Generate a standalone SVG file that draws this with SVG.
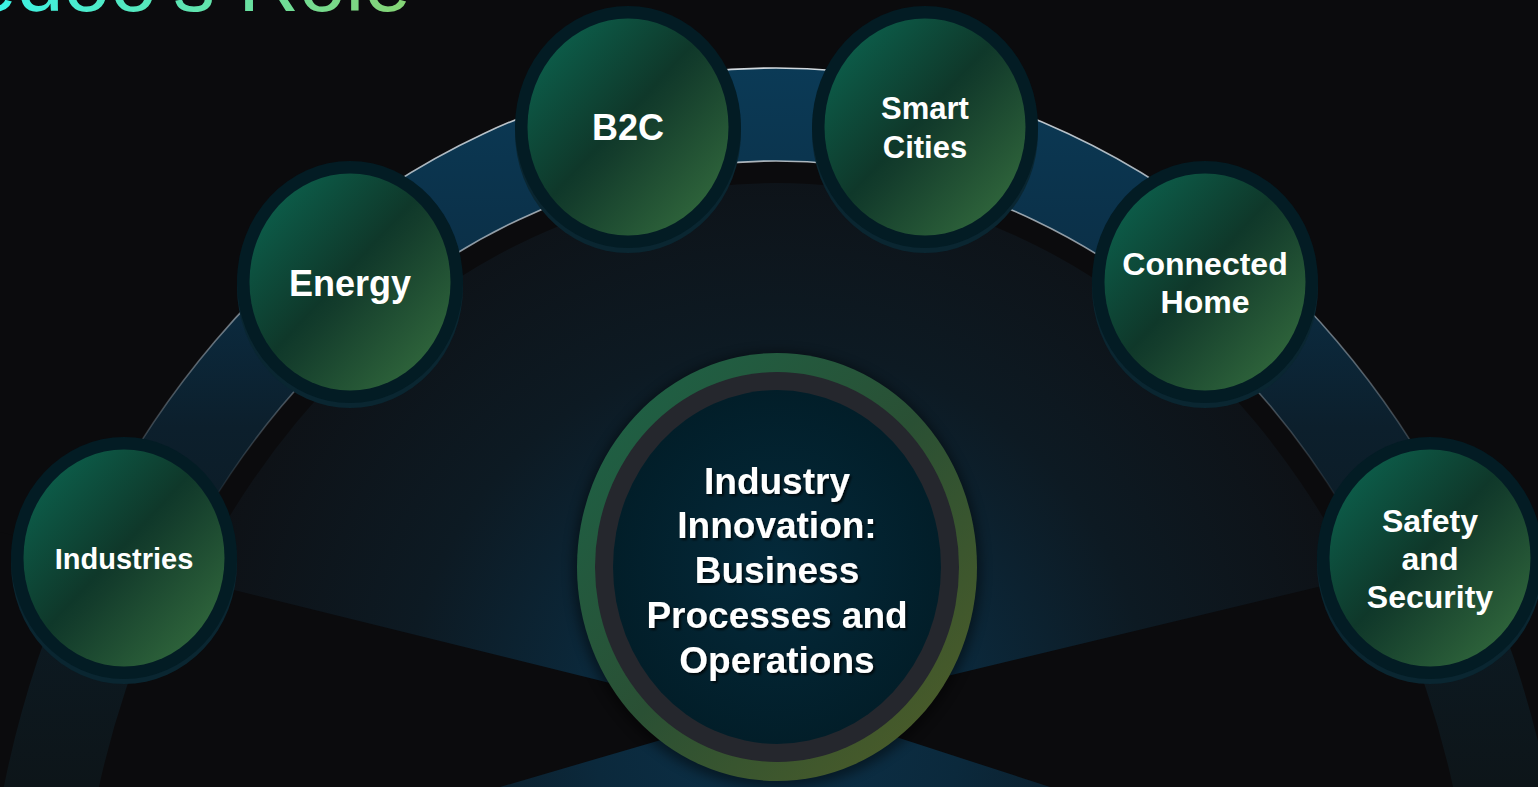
<svg xmlns="http://www.w3.org/2000/svg" width="1538" height="787" viewBox="0 0 1538 787">
<defs>
<style>
.lbl{font-family:"Liberation Sans",Arial,sans-serif;font-weight:700;fill:#ffffff;text-anchor:middle}
.ring{fill:#031c24}
.shadow{fill:#0a2631}
.face{fill:url(#nodeGrad)}
.edge{fill:none;stroke:url(#edgeGrad);stroke-width:1.6}
</style>
<linearGradient id="titleGrad" gradientUnits="userSpaceOnUse" x1="0" y1="0" x2="410" y2="0">
<stop offset="0" stop-color="#3cf2e4"/><stop offset="1" stop-color="#86d474"/>
</linearGradient>
<radialGradient id="discGrad" gradientUnits="userSpaceOnUse" cx="777" cy="720" r="620">
<stop offset="0" stop-color="#0c3149"/><stop offset="0.3" stop-color="#0b293c"/><stop offset="0.6" stop-color="#0d1a23"/><stop offset="1" stop-color="#0e1014"/>
</radialGradient>
<linearGradient id="bandGrad" gradientUnits="userSpaceOnUse" x1="0" y1="68" x2="0" y2="787">
<stop offset="0" stop-color="#0b3a56"/><stop offset="0.25" stop-color="#0b3048"/><stop offset="0.5" stop-color="#0c1f2c"/><stop offset="1" stop-color="#0d1519"/>
</linearGradient>
<linearGradient id="edgeGrad" gradientUnits="userSpaceOnUse" x1="0" y1="60" x2="0" y2="600">
<stop offset="0" stop-color="#e0e6ea" stop-opacity="0.95"/><stop offset="0.45" stop-color="#c0c8d0" stop-opacity="0.6"/><stop offset="0.85" stop-color="#c0c8d0" stop-opacity="0"/>
</linearGradient>
<linearGradient id="nodeGrad" x1="0" y1="0" x2="1" y2="1">
<stop offset="0" stop-color="#0b6954"/><stop offset="0.47" stop-color="#0f382a"/><stop offset="0.53" stop-color="#143d2c"/><stop offset="1" stop-color="#387240"/>
</linearGradient>
<linearGradient id="centerRing" x1="0" y1="0" x2="1" y2="1">
<stop offset="0" stop-color="#1b6449"/><stop offset="0.5" stop-color="#2a5034"/><stop offset="1" stop-color="#525e26"/>
</linearGradient>
<radialGradient id="centerFace" cx="0.5" cy="0.5" r="0.5">
<stop offset="0" stop-color="#042a3b"/><stop offset="1" stop-color="#021e29"/>
</radialGradient>
<filter id="blur" x="-20%" y="-20%" width="140%" height="140%"><feGaussianBlur stdDeviation="6"/></filter>
<filter id="ts" x="-10%" y="-10%" width="120%" height="130%"><feDropShadow dx="2" dy="2" stdDeviation="1" flood-color="#000000" flood-opacity="0.7"/></filter>
</defs>

<rect width="1538" height="787" fill="#0b0b0d"/>

<text id="title" x="411" y="11" font-family="Liberation Sans, Arial, sans-serif" font-size="84" text-anchor="end" fill="url(#titleGrad)">Ooredoo's Role</text>

<g id="backdrop">
<ellipse cx="776" cy="1000" rx="678" ry="817" fill="url(#discGrad)"/>
<polygon points="743,716 0,532 0,787 500,787" fill="#0b0b0d"/>
<polygon points="810,709 1538,534 1538,787 1050,787" fill="#0b0b0d"/>
</g>

<g id="connectors">
<ellipse cx="776" cy="1000" rx="746.5" ry="885.5" fill="none" stroke="url(#bandGrad)" stroke-width="93"/>
<ellipse class="edge" cx="776" cy="1000" rx="793" ry="932"/>
<ellipse class="edge" cx="776" cy="1000" rx="700" ry="839"/>
</g>

<g id="node-industries">
<ellipse class="shadow" cx="124" cy="563" rx="113" ry="121"/>
<ellipse class="ring" cx="124" cy="558" rx="113" ry="121"/>
<ellipse class="face" cx="124" cy="558" rx="100.5" ry="108.5"/>
<text class="lbl" x="124" y="569" font-size="29">Industries</text>
</g>

<g id="node-energy">
<ellipse class="shadow" cx="350" cy="287" rx="113" ry="121"/>
<ellipse class="ring" cx="350" cy="282" rx="113" ry="121"/>
<ellipse class="face" cx="350" cy="282" rx="100.5" ry="108.5"/>
<text class="lbl" x="350" y="296" font-size="36">Energy</text>
</g>

<g id="node-b2c">
<ellipse class="shadow" cx="628" cy="132" rx="113" ry="121"/>
<ellipse class="ring" cx="628" cy="127" rx="113" ry="121"/>
<ellipse class="face" cx="628" cy="127" rx="100.5" ry="108.5"/>
<text class="lbl" x="628" y="140" font-size="36">B2C</text>
</g>

<g id="node-smart-cities">
<ellipse class="shadow" cx="925" cy="132" rx="113" ry="121"/>
<ellipse class="ring" cx="925" cy="127" rx="113" ry="121"/>
<ellipse class="face" cx="925" cy="127" rx="100.5" ry="108.5"/>
<text class="lbl" x="925" y="119" font-size="31">Smart</text>
<text class="lbl" x="925" y="158" font-size="31">Cities</text>
</g>

<g id="node-connected-home">
<ellipse class="shadow" cx="1205" cy="287" rx="113" ry="121"/>
<ellipse class="ring" cx="1205" cy="282" rx="113" ry="121"/>
<ellipse class="face" cx="1205" cy="282" rx="100.5" ry="108.5"/>
<text class="lbl" x="1205" y="275" font-size="32">Connected</text>
<text class="lbl" x="1205" y="313" font-size="32">Home</text>
</g>

<g id="node-safety-security">
<ellipse class="shadow" cx="1430" cy="563" rx="113" ry="121"/>
<ellipse class="ring" cx="1430" cy="558" rx="113" ry="121"/>
<ellipse class="face" cx="1430" cy="558" rx="100.5" ry="108.5"/>
<text class="lbl" x="1430" y="532" font-size="32">Safety</text>
<text class="lbl" x="1430" y="570" font-size="32">and</text>
<text class="lbl" x="1430" y="608" font-size="32">Security</text>
</g>

<g id="node-center">
<ellipse cx="777" cy="570" rx="204" ry="218" fill="#000000" opacity="0.45" filter="url(#blur)"/>
<ellipse cx="777" cy="567" rx="200" ry="214" fill="url(#centerRing)"/>
<ellipse cx="777" cy="567" rx="182" ry="195" fill="#25272d"/>
<ellipse cx="777" cy="567" rx="164" ry="177" fill="url(#centerFace)"/>
<g filter="url(#ts)">
<text class="lbl" x="777" y="494" font-size="37">Industry</text>
<text class="lbl" x="777" y="538" font-size="37">Innovation:</text>
<text class="lbl" x="777" y="583" font-size="37">Business</text>
<text class="lbl" x="777" y="628" font-size="37">Processes and</text>
<text class="lbl" x="777" y="673" font-size="37">Operations</text>
</g>
</g>
</svg>
